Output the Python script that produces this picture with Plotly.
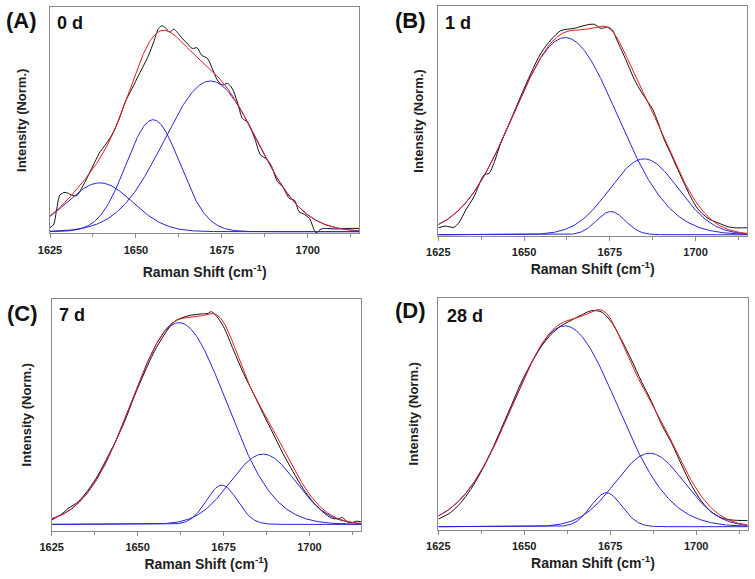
import numpy as np
import plotly.graph_objects as go

FONT = "Liberation Sans, Arial, sans-serif"

# ---------------- data ----------------
x_range = [1625, 1715]
tick_vals = [1625, 1650, 1675, 1700]
tick_text = ["1625", "1650", "1675", "1700"]
minor_tick_vals = [1637.5, 1662.5, 1687.5, 1712.5]

panel_labels = ["(A)", "(B)", "(C)", "(D)"]
day_labels = ["0 d", "1 d", "7 d", "28 d"]

# fitted Gaussian bands: centre (cm-1), sigma (cm-1), height (norm.)
A_centers = [1639.5, 1655.0, 1671.7]
A_sigmas = [9.5, 7.8, 13.5]
A_heights = [0.24, 0.55, 0.74]

B_centers = [1662.0, 1675.3, 1685.0]
B_sigmas = [15.2, 4.2, 10.0]
B_heights = [0.935, 0.11, 0.36]

C_centers = [1662.0, 1674.5, 1686.5]
C_sigmas = [13.8, 4.5, 9.5]
C_heights = [0.956, 0.186, 0.333]

D_centers = [1661.8, 1673.9, 1686.5]
D_sigmas = [15.2, 4.5, 10.0]
D_heights = [0.93, 0.157, 0.34]

# measured (raw) spectra
A_raw_x = [1625, 1626, 1627, 1627.9, 1629.4, 1631.3, 1632.8, 1634.2, 1636.2, 1638.1,
           1639.6, 1641.1, 1643, 1645, 1646.9, 1648.9, 1650.8, 1652.3, 1653.7, 1655.2,
           1656.6, 1657.6, 1658.6, 1659.8, 1661, 1662, 1663.5, 1664.9, 1666.4, 1667.8,
           1669.1, 1670.8, 1672.2, 1673.7, 1675.1, 1676.6, 1678, 1679.5, 1681, 1682.4,
           1684.4, 1686.3, 1687.8, 1689.3, 1691.2, 1692.7, 1694.6, 1696.1, 1697.5, 1699,
           1700.5, 1702.4, 1703.9, 1705.8, 1707.8, 1711.7, 1715]
A_raw_y = [0.02, 0.033, 0.115, 0.18, 0.193, 0.18, 0.177, 0.213, 0.278, 0.344,
           0.393, 0.426, 0.475, 0.548, 0.638, 0.704, 0.769, 0.818, 0.867, 0.933,
           0.998, 1.011, 1.002, 0.979, 0.995, 0.979, 0.949, 0.925, 0.9, 0.903,
           0.867, 0.851, 0.802, 0.745, 0.72, 0.728, 0.704, 0.638, 0.556, 0.54,
           0.466, 0.376, 0.36, 0.327, 0.245, 0.221, 0.164, 0.155, 0.098, 0.085,
           0.065, -0.005, 0.013, 0.016, 0.013, 0.016, 0.016]

B_raw_x = [1625, 1627.1, 1629.5, 1631, 1633, 1635.4, 1638.3, 1639.8, 1641.2, 1643.2,
           1646.1, 1649, 1652, 1654.9, 1657.8, 1660.7, 1662.7, 1664.6, 1666.6, 1668.5,
           1670.5, 1672.4, 1674.4, 1675.8, 1677.3, 1678.8, 1680.2, 1682.2, 1684.1, 1686.1,
           1687.5, 1689, 1690.9, 1692.9, 1694.8, 1696.8, 1698.7, 1700.7, 1703.6, 1706.5,
           1709.5, 1711.4, 1715]
B_raw_y = [0.033, 0.041, 0.035, 0.057, 0.117, 0.18, 0.283, 0.291, 0.339, 0.434,
           0.544, 0.655, 0.766, 0.861, 0.924, 0.968, 0.975, 0.979, 0.988, 0.996,
           0.998, 0.979, 0.985, 0.97, 0.915, 0.862, 0.81, 0.735, 0.68, 0.63,
           0.595, 0.535, 0.45, 0.38, 0.31, 0.24, 0.175, 0.122, 0.078, 0.057,
           0.038, 0.033, 0.033]

C_raw_x = [1625, 1626, 1627.9, 1629.8, 1632.7, 1635.6, 1638.5, 1641.3, 1643.3, 1646.2,
           1649, 1651.9, 1654.8, 1657.7, 1660.6, 1664.4, 1668.3, 1670.5, 1671.4, 1673.1,
           1675, 1677.9, 1680.8, 1683.7, 1686.5, 1689.4, 1692.3, 1695.2, 1698.1, 1701,
           1703.8, 1706.7, 1708.6, 1709.6, 1711, 1712.5, 1713.5, 1715]
C_raw_y = [0.02, 0.03, 0.049, 0.076, 0.107, 0.163, 0.234, 0.321, 0.384, 0.487,
           0.605, 0.716, 0.818, 0.897, 0.96, 0.987, 0.997, 1.0, 1.008, 0.984,
           0.937, 0.826, 0.716, 0.621, 0.526, 0.431, 0.336, 0.25, 0.171, 0.107,
           0.06, 0.028, 0.028, 0.033, 0.012, 0.008, 0.015, 0.012]

D_raw_x = [1625, 1628.6, 1631.5, 1634.4, 1637.3, 1640.3, 1643.2, 1646.1, 1649, 1652,
           1654.9, 1657.8, 1660.7, 1663.6, 1666.6, 1669.5, 1672.4, 1675.3, 1678.3, 1681.2,
           1684.1, 1687, 1690, 1692.9, 1695.8, 1698.7, 1701.7, 1704.6, 1707.5, 1710.4,
           1715]
D_raw_y = [0.035, 0.066, 0.11, 0.172, 0.25, 0.345, 0.45, 0.556, 0.664, 0.756,
           0.833, 0.89, 0.93, 0.955, 0.98, 1.0, 0.995, 0.949, 0.864, 0.772,
           0.672, 0.58, 0.472, 0.386, 0.285, 0.19, 0.115, 0.066, 0.04, 0.031,
           0.028]

# ---------------- layout (pixels in a 755 x 579 canvas) ----------------
W, H = 755, 579
panel_px = [  # left, right, top, bottom of each frame
    (50.0, 359.3, 7.3, 233.3),
    (438.3, 747.0, 6.0, 236.0),
    (51.7, 361.0, 299.0, 530.5),
    (438.3, 747.7, 298.0, 529.5),
]
y_ranges = [[-0.008, 1.102], [-0.006, 1.085], [-0.029, 1.068], [-0.013, 1.059]]
ytitle_standoff = [19, 10, 16, 15]
xtitle_standoff = [12, 6, 7, 7]
label_pos = [(21.5, 20.5), (410.5, 20.0), (22.5, 313.5), (410.5, 311.0)]
day_pos = [(55, 22.5), (443, 22.5), (57, 315.0), (445, 315.5)]

panels = [
    (A_centers, A_sigmas, A_heights, A_raw_x, A_raw_y),
    (B_centers, B_sigmas, B_heights, B_raw_x, B_raw_y),
    (C_centers, C_sigmas, C_heights, C_raw_x, C_raw_y),
    (D_centers, D_sigmas, D_heights, D_raw_x, D_raw_y),
]

BLACK = "#111111"
RED = "#e8191e"
BLUE = "#2626d2"
FRAME = "#8a8a8a"

grid = np.linspace(x_range[0], x_range[1], 451)

fig = go.Figure()
layout = dict(
    width=W, height=H, margin=dict(l=0, r=0, t=0, b=0, autoexpand=False),
    paper_bgcolor="white", plot_bgcolor="white", showlegend=False,
    font=dict(family=FONT, color="#222222"),
)
annotations = []

for i, (cen, sig, hgt, rx, ry) in enumerate(panels):
    n = "" if i == 0 else str(i + 1)
    xa, ya = "x" + n, "y" + n
    # raw spectrum
    fig.add_trace(go.Scatter(x=rx, y=ry, mode="lines", xaxis=xa, yaxis=ya,
                             line=dict(color=BLACK, width=1, shape="spline", smoothing=0.8),
                             hoverinfo="skip"))
    comps = []
    for c, s, h in zip(cen, sig, hgt):
        comp = h * np.exp(-((grid - c) ** 2) / (2 * s ** 2))
        comps.append(comp)
        fig.add_trace(go.Scatter(x=grid, y=comp, mode="lines", xaxis=xa, yaxis=ya,
                                 line=dict(color=BLUE, width=1), hoverinfo="skip"))
    fit = np.sum(comps, axis=0)
    fig.add_trace(go.Scatter(x=grid, y=fit, mode="lines", xaxis=xa, yaxis=ya,
                             line=dict(color=RED, width=1), hoverinfo="skip"))

    l, r, t, b = panel_px[i]
    layout["xaxis" + n] = dict(
        domain=[l / W, r / W], range=x_range, anchor=ya, automargin=False,
        tickmode="array", tickvals=tick_vals, ticktext=tick_text,
        ticks="outside", ticklen=4, tickcolor=FRAME, tickwidth=1,
        ticklabelstandoff=2,
        minor=dict(tickmode="array", tickvals=minor_tick_vals, ticks="outside",
                   ticklen=3, tickcolor=FRAME, tickwidth=1),
        showline=True, linecolor=FRAME, linewidth=1, mirror=True,
        showgrid=False, zeroline=False,
        tickfont=dict(family=FONT, size=11, color="#222222", weight="bold"),
        title=dict(text="Raman Shift (cm<sup>-1</sup>)", standoff=xtitle_standoff[i],
                   font=dict(family=FONT, size=14, color="#222222", weight="bold")),
    )
    layout["yaxis" + n] = dict(
        domain=[1 - b / H, 1 - t / H], range=y_ranges[i], anchor=xa, automargin=False,
        showticklabels=False, ticks="",
        showline=True, linecolor=FRAME, linewidth=1, mirror=True,
        showgrid=False, zeroline=False,
        title=dict(text="Intensity (Norm.)", standoff=ytitle_standoff[i],
                   font=dict(family=FONT, size=13, color="#222222", weight="bold")),
    )
    lx, ly = label_pos[i]
    annotations.append(dict(text=panel_labels[i], x=lx / W, y=1 - ly / H,
                            xref="paper", yref="paper", showarrow=False,
                            xanchor="center", yanchor="middle",
                            font=dict(family=FONT, size=22, color="#111111", weight="bold")))
    dx, dy = day_pos[i]
    annotations.append(dict(text=day_labels[i], x=dx / W, y=1 - dy / H,
                            xref="paper", yref="paper", showarrow=False,
                            xanchor="left", yanchor="middle",
                            font=dict(family=FONT, size=18, color="#111111", weight="bold")))

layout["annotations"] = annotations
fig.update_layout(**layout)
# remove the browser's default 8px body margin so the figure sits at the page origin
fig.write_html("out.html",
               config={"displayModeBar": False},
               post_script="document.body.style.margin='0px';document.body.style.padding='0px';")
